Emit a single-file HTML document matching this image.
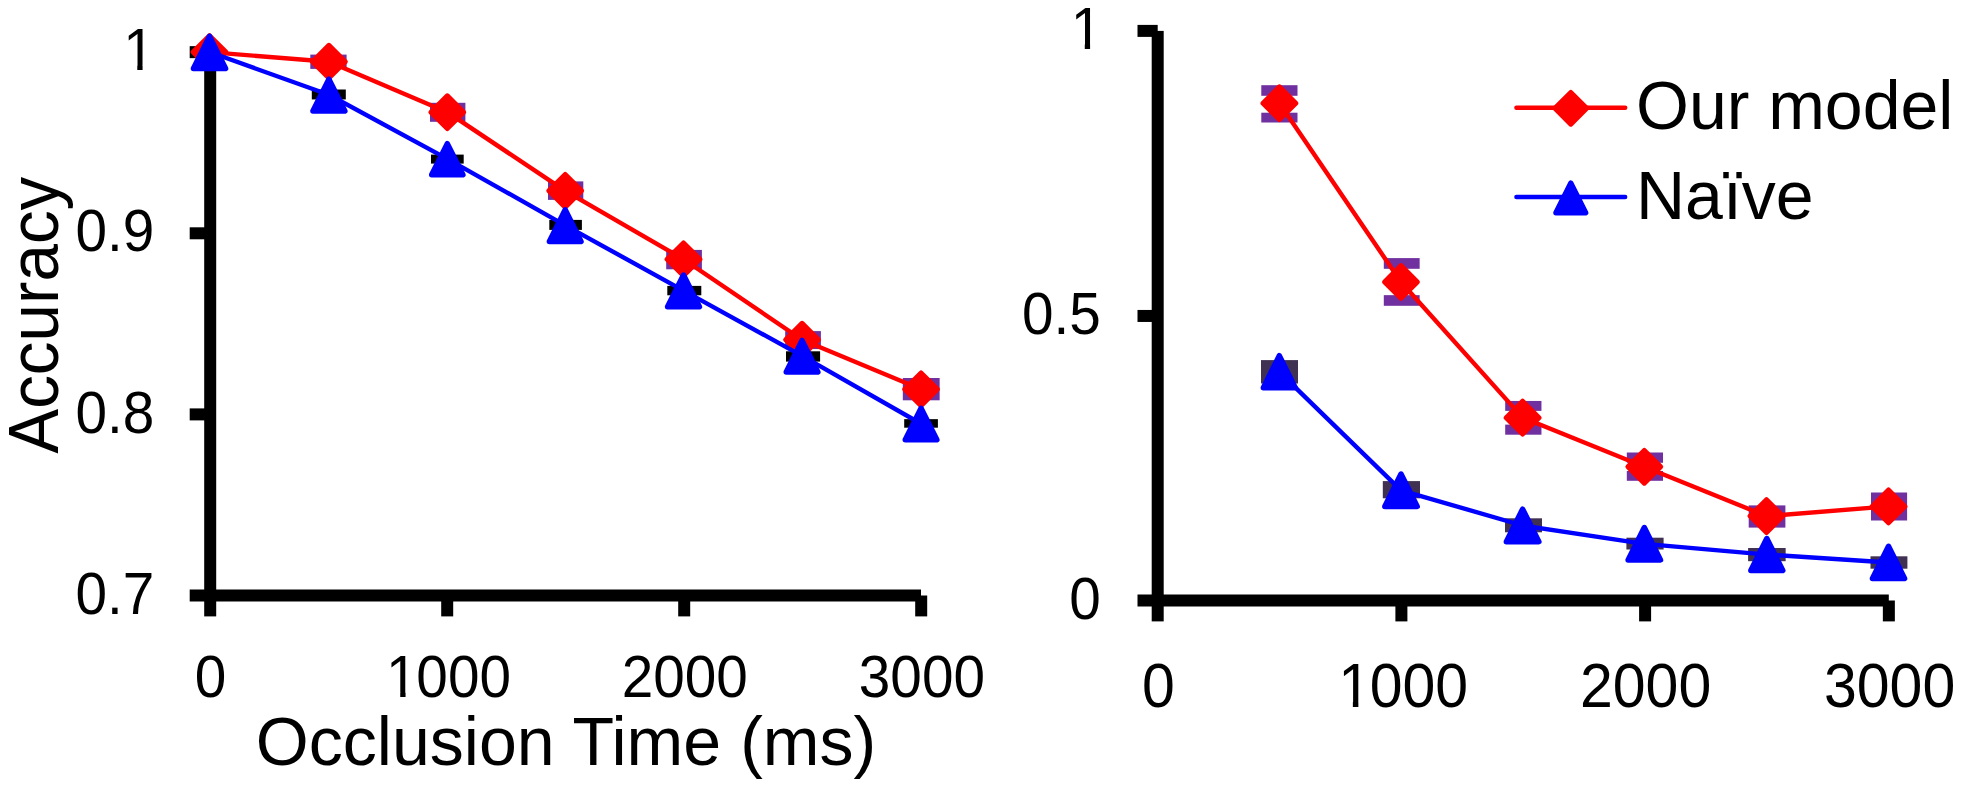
<!DOCTYPE html>
<html><head><meta charset="utf-8"><title>Accuracy vs Occlusion Time</title>
<style>
html,body{margin:0;padding:0;background:#fff;}
svg{display:block;}
text{font-family:"Liberation Sans",Arial,Helvetica,sans-serif;fill:#000;}
</style></head><body>
<svg width="1961" height="787" viewBox="0 0 1961 787">
<rect width="1961" height="787" fill="#fff"/>
<g id="left-axes">
<rect x="204.2" y="52.15" width="12" height="564.25" fill="#000"/>
<rect x="189.7" y="589.5" width="731.3" height="12" fill="#000"/>
<rect x="189.7" y="46.15" width="20.5" height="12" fill="#000"/>
<rect x="189.7" y="227.3" width="20.5" height="12" fill="#000"/>
<rect x="189.7" y="408.4" width="20.5" height="12" fill="#000"/>
<rect x="441.2" y="595.5" width="12" height="20.9" fill="#000"/>
<rect x="678.2" y="595.5" width="12" height="20.9" fill="#000"/>
<rect x="915.2" y="595.5" width="12" height="20.9" fill="#000"/>
</g>
<g id="left-series">
<rect x="310.3" y="54.6" width="36.3" height="14.3" fill="#7030a0"/>
<rect x="430" y="102.8" width="35.4" height="19" fill="#7030a0"/>
<rect x="548" y="181.4" width="35.3" height="18.5" fill="#7030a0"/>
<rect x="666.2" y="249.9" width="35.7" height="19.4" fill="#7030a0"/>
<rect x="785.2" y="331.1" width="35.7" height="17.95" fill="#7030a0"/>
<rect x="902.8" y="378" width="36.85" height="22.3" fill="#7030a0"/>
<rect x="311.8" y="89.5" width="34" height="9.95" fill="#000"/>
<rect x="431" y="154.6" width="32.7" height="9" fill="#000"/>
<rect x="549.3" y="219.9" width="32.6" height="10" fill="#000"/>
<rect x="667.3" y="285.9" width="34" height="9.4" fill="#000"/>
<rect x="786" y="351.3" width="34.1" height="10.3" fill="#000"/>
<rect x="904.2" y="419.15" width="33.7" height="8.55" fill="#000"/>
<polyline points="209.5,52.1 328.9,61.7 447.3,112.2 565.2,190.8 683.5,259.3 802.05,339.7 921.05,389.3" fill="none" stroke="#ff0000" stroke-width="4.4" stroke-linejoin="round" stroke-linecap="round"/>
<path d="M209.5,35.7L225.9,52.1L209.5,68.5L193.1,52.1Z" fill="#ff0000" stroke="#ff0000" stroke-width="5" stroke-linejoin="round"/>
<path d="M328.9,45.3L345.3,61.7L328.9,78.1L312.5,61.7Z" fill="#ff0000" stroke="#ff0000" stroke-width="5" stroke-linejoin="round"/>
<path d="M447.3,95.8L463.7,112.2L447.3,128.6L430.9,112.2Z" fill="#ff0000" stroke="#ff0000" stroke-width="5" stroke-linejoin="round"/>
<path d="M565.2,174.4L581.6,190.8L565.2,207.2L548.8,190.8Z" fill="#ff0000" stroke="#ff0000" stroke-width="5" stroke-linejoin="round"/>
<path d="M683.5,242.9L699.9,259.3L683.5,275.7L667.1,259.3Z" fill="#ff0000" stroke="#ff0000" stroke-width="5" stroke-linejoin="round"/>
<path d="M802.05,323.3L818.45,339.7L802.05,356.1L785.65,339.7Z" fill="#ff0000" stroke="#ff0000" stroke-width="5" stroke-linejoin="round"/>
<path d="M921.05,372.9L937.45,389.3L921.05,405.7L904.65,389.3Z" fill="#ff0000" stroke="#ff0000" stroke-width="5" stroke-linejoin="round"/>
<polyline points="209.5,52.05 328.9,94.75 447.3,158.9 565.2,225.3 683.5,290.6 802.05,355.9 921.05,423.73" fill="none" stroke="#0000ff" stroke-width="4.4" stroke-linejoin="round" stroke-linecap="round"/>
<path d="M209.5,36.33L225.56,68.45L193.44,68.45Z" fill="#0000ff" stroke="#0000ff" stroke-width="5.5" stroke-linejoin="round"/>
<path d="M328.9,79.13L344.86,111.05L312.94,111.05Z" fill="#0000ff" stroke="#0000ff" stroke-width="5.5" stroke-linejoin="round"/>
<path d="M447.3,143.63L462.91,174.85L431.69,174.85Z" fill="#0000ff" stroke="#0000ff" stroke-width="5.5" stroke-linejoin="round"/>
<path d="M565.2,209.83L581.01,241.45L549.39,241.45Z" fill="#0000ff" stroke="#0000ff" stroke-width="5.5" stroke-linejoin="round"/>
<path d="M683.5,275.03L699.41,306.85L667.59,306.85Z" fill="#0000ff" stroke="#0000ff" stroke-width="5.5" stroke-linejoin="round"/>
<path d="M802.05,340.43L817.86,372.05L786.24,372.05Z" fill="#0000ff" stroke="#0000ff" stroke-width="5.5" stroke-linejoin="round"/>
<path d="M921.05,408.28L936.84,439.85L905.26,439.85Z" fill="#0000ff" stroke="#0000ff" stroke-width="5.5" stroke-linejoin="round"/>
</g>
<g id="right-axes">
<rect x="1151.7" y="30.9" width="12" height="590.5" fill="#000"/>
<rect x="1137.5" y="594.5" width="751.3" height="12" fill="#000"/>
<rect x="1137.5" y="24.9" width="20.2" height="12" fill="#000"/>
<rect x="1137.5" y="309.95" width="20.2" height="12" fill="#000"/>
<rect x="1395.4" y="600.5" width="12" height="20.9" fill="#000"/>
<rect x="1639.1" y="600.5" width="12" height="20.9" fill="#000"/>
<rect x="1882.85" y="600.5" width="12" height="20.9" fill="#000"/>
</g>
<g id="right-series">
<rect x="1261.3" y="85.2" width="36.2" height="10.6" fill="#7030a0"/>
<rect x="1261.3" y="112.7" width="36.2" height="9.8" fill="#7030a0"/>
<rect x="1383.8" y="258.1" width="35.85" height="10.7" fill="#7030a0"/>
<rect x="1383.8" y="295.15" width="35.85" height="10.65" fill="#7030a0"/>
<rect x="1505.2" y="400.95" width="36.25" height="9.95" fill="#7030a0"/>
<rect x="1505.2" y="424.6" width="36.25" height="10.1" fill="#7030a0"/>
<rect x="1626.8" y="452.5" width="36.2" height="10.3" fill="#7030a0"/>
<rect x="1626.8" y="471" width="36.2" height="9.8" fill="#7030a0"/>
<rect x="1748.7" y="505.4" width="36.7" height="22.2" fill="#7030a0"/>
<rect x="1871" y="492.5" width="36.1" height="28" fill="#7030a0"/>
<rect x="1261" y="360.1" width="37" height="23.4" fill="#403152"/>
<rect x="1382.8" y="481.1" width="37.2" height="17.2" fill="#403152"/>
<rect x="1505" y="518.3" width="37" height="14" fill="#403152"/>
<rect x="1626.4" y="537.7" width="37.2" height="11.8" fill="#403152"/>
<rect x="1748.1" y="548" width="37.55" height="13.2" fill="#403152"/>
<rect x="1870.5" y="556.3" width="36.9" height="12.4" fill="#403152"/>
<polyline points="1279.4,103.2 1400.95,281.95 1522.6,417.65 1644.3,466.8 1766.5,516.1 1888.5,506.4" fill="none" stroke="#ff0000" stroke-width="4.4" stroke-linejoin="round" stroke-linecap="round"/>
<path d="M1279.4,86.8L1295.8,103.2L1279.4,119.6L1263,103.2Z" fill="#ff0000" stroke="#ff0000" stroke-width="5" stroke-linejoin="round"/>
<path d="M1400.95,265.55L1417.35,281.95L1400.95,298.35L1384.55,281.95Z" fill="#ff0000" stroke="#ff0000" stroke-width="5" stroke-linejoin="round"/>
<path d="M1522.6,401.25L1539,417.65L1522.6,434.05L1506.2,417.65Z" fill="#ff0000" stroke="#ff0000" stroke-width="5" stroke-linejoin="round"/>
<path d="M1644.3,450.4L1660.7,466.8L1644.3,483.2L1627.9,466.8Z" fill="#ff0000" stroke="#ff0000" stroke-width="5" stroke-linejoin="round"/>
<path d="M1766.5,499.7L1782.9,516.1L1766.5,532.5L1750.1,516.1Z" fill="#ff0000" stroke="#ff0000" stroke-width="5" stroke-linejoin="round"/>
<path d="M1888.5,490L1904.9,506.4L1888.5,522.8L1872.1,506.4Z" fill="#ff0000" stroke="#ff0000" stroke-width="5" stroke-linejoin="round"/>
<polyline points="1279.3,371.8 1401,490.32 1522.6,525.5 1644.3,543.83 1766.8,554.6 1888.5,562.5" fill="none" stroke="#0000ff" stroke-width="4.4" stroke-linejoin="round" stroke-linecap="round"/>
<path d="M1279.3,355.73L1295.26,387.65L1263.34,387.65Z" fill="#0000ff" stroke="#0000ff" stroke-width="5.5" stroke-linejoin="round"/>
<path d="M1401,474.03L1417.19,506.4L1384.81,506.4Z" fill="#0000ff" stroke="#0000ff" stroke-width="5.5" stroke-linejoin="round"/>
<path d="M1522.6,509.13L1538.86,541.65L1506.34,541.65Z" fill="#0000ff" stroke="#0000ff" stroke-width="5.5" stroke-linejoin="round"/>
<path d="M1644.3,527.53L1660.49,559.9L1628.11,559.9Z" fill="#0000ff" stroke="#0000ff" stroke-width="5.5" stroke-linejoin="round"/>
<path d="M1766.8,538.53L1782.76,570.45L1750.84,570.45Z" fill="#0000ff" stroke="#0000ff" stroke-width="5.5" stroke-linejoin="round"/>
<path d="M1888.5,546.33L1904.56,578.45L1872.44,578.45Z" fill="#0000ff" stroke="#0000ff" stroke-width="5.5" stroke-linejoin="round"/>
</g>
<g id="legend">
<polyline points="1516.4,107.7 1625.2,107.7" fill="none" stroke="#ff0000" stroke-width="4.4" stroke-linejoin="round" stroke-linecap="round"/>
<path d="M1570.8,92.4L1586.7,108.3L1570.8,124.2L1554.9,108.3Z" fill="#ff0000" stroke="#ff0000" stroke-width="5" stroke-linejoin="round"/>
<polyline points="1516.4,197 1625.2,197" fill="none" stroke="#0000ff" stroke-width="4.4" stroke-linejoin="round" stroke-linecap="round"/>
<path d="M1570.8,183.13L1585.61,212.75L1555.99,212.75Z" fill="#0000ff" stroke="#0000ff" stroke-width="5.5" stroke-linejoin="round"/>
</g>
<g id="labels">
<text transform="translate(154.7,70) scale(1,1.04)" font-size="56.7" text-anchor="end">1</text>
<text transform="translate(154.2,251.4) scale(1,1.03)" font-size="56.7" text-anchor="end">0.9</text>
<text transform="translate(154.2,432.8) scale(1,1.03)" font-size="56.7" text-anchor="end">0.8</text>
<text transform="translate(154.2,614.1) scale(1,1.03)" font-size="56.7" text-anchor="end">0.7</text>
<text transform="translate(210.45,696.9) scale(1,1.03)" font-size="56.7" text-anchor="middle">0</text>
<text transform="translate(384.83,696.9) scale(1,1.03)" dx="1.3 -1.3" font-size="56.7" text-anchor="start">1000</text>
<text transform="translate(684.8,696.9) scale(1,1.03)" font-size="56.7" text-anchor="middle">2000</text>
<text transform="translate(921.9,696.9) scale(1,1.03)" font-size="56.7" text-anchor="middle">3000</text>
<text transform="translate(566,765.3) scale(1,1.015)" font-size="68.1" text-anchor="middle">Occlusion Time (ms)</text>
<text transform="translate(57.8,315.25) rotate(-90) scale(1,1.05)" font-size="67.4" text-anchor="middle">Accuracy</text>
<text transform="translate(1102.2,48.8) scale(1,1.04)" font-size="56.7" text-anchor="end">1</text>
<text transform="translate(1100.9,334.3) scale(1,1.03)" font-size="56.7" text-anchor="end">0.5</text>
<text transform="translate(1100.7,619.2) scale(1,1.03)" font-size="56.7" text-anchor="end">0</text>
<text transform="translate(1158.4,707.1) scale(1,1.055)" font-size="59" text-anchor="middle">0</text>
<text transform="translate(1336.87,707.1) scale(1,1.055)" dx="1.3 -1.3" font-size="59" text-anchor="start">1000</text>
<text transform="translate(1645.6,707.1) scale(1,1.055)" font-size="59" text-anchor="middle">2000</text>
<text transform="translate(1889.6,707.1) scale(1,1.055)" font-size="59" text-anchor="middle">3000</text>
<text transform="translate(1636,129.2) scale(1,1.01)" font-size="68" text-anchor="start">Our model</text>
<text transform="translate(1636,218.7) scale(1,1.02)" font-size="68" text-anchor="start">Naïve</text>
</g>
<g id="digit-foot-trim">
<rect x="126.49" y="64.99" width="10.79" height="6.01" fill="#fff"/>
<rect x="142.59" y="64.99" width="10.35" height="6.01" fill="#fff"/>
<rect x="389.45" y="691.94" width="10.79" height="5.96" fill="#fff"/>
<rect x="405.55" y="691.94" width="10.35" height="5.96" fill="#fff"/>
<rect x="1073.99" y="43.79" width="10.79" height="6.01" fill="#fff"/>
<rect x="1090.09" y="43.79" width="10.35" height="6.01" fill="#fff"/>
<rect x="1341.67" y="701.85" width="11.19" height="6.25" fill="#fff"/>
<rect x="1358.37" y="701.85" width="10.73" height="6.25" fill="#fff"/>
</g>
</svg>
</body></html>
